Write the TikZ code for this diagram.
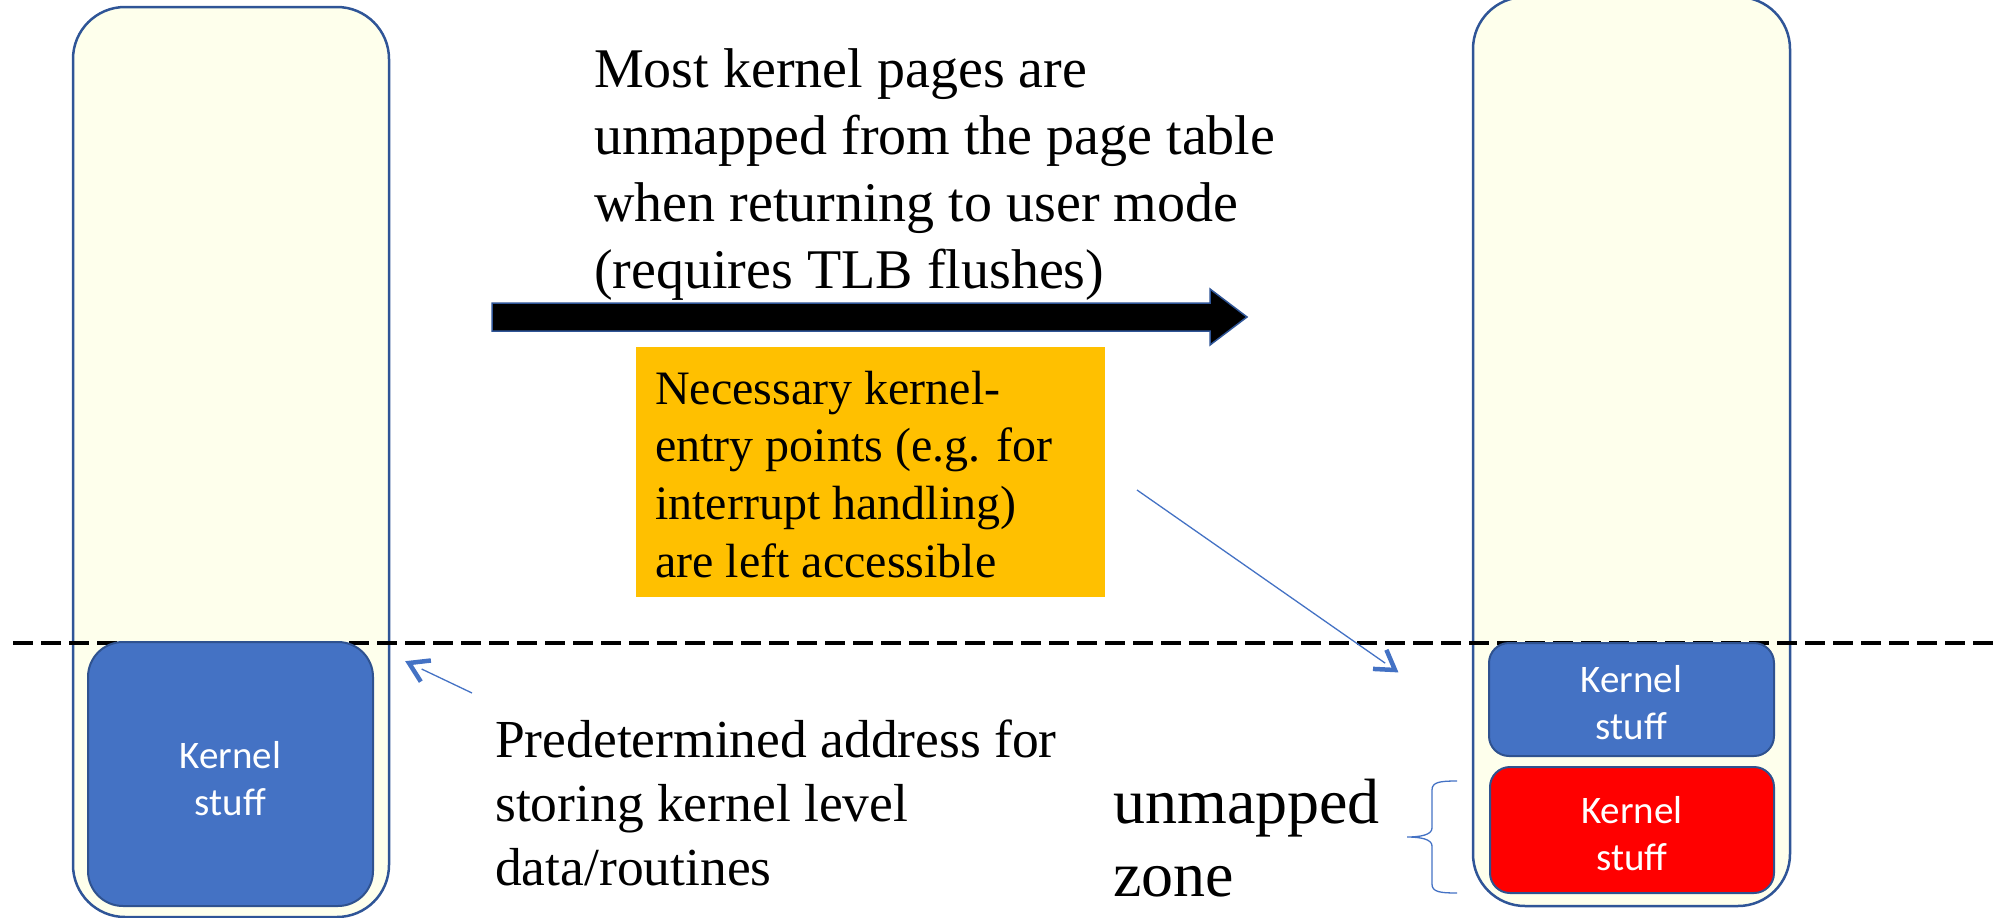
\documentclass[tikz,border=0pt]{standalone}
\usepackage{fontspec}
\setmainfont{Liberation Serif}
\newfontfamily\calib{Carlito}
\usetikzlibrary{arrows.meta,calc}
\definecolor{boxline}{HTML}{2F5597}
\definecolor{paleyel}{HTML}{FEFFEC}
\definecolor{kblue}{HTML}{4472C4}
\definecolor{kline}{HTML}{2F528F}
\definecolor{kred}{HTML}{FF0000}
\definecolor{orng}{HTML}{FFC000}
\definecolor{thinblue}{HTML}{4472C4}
\begin{document}
\begin{tikzpicture}[x=1pt,y=-1pt,
  tallbox/.style={rectangle, draw=boxline, fill=paleyel, line width=2.5pt, rounded corners=52pt, inner sep=0pt},
  kbox/.style={rectangle, draw=kline, line width=2pt, inner sep=0pt},
  ktext/.style={inner sep=0pt, text=white, align=center, font=\calib\fontsize{39}{47}\selectfont},
  dashline/.style={line width=4pt, dash pattern=on 20pt off 8pt},
  bigarrow/.style={fill=black, draw=boxline, line width=1.5pt, line join=miter},
  thinline/.style={draw=thinblue, line width=1.3pt},
  headstyle/.style={draw=thinblue, line width=4.5pt, line join=miter, line cap=butt},
  bracestyle/.style={draw=thinblue, line width=1.3pt},
  txt/.style={inner sep=0pt, anchor=base west, align=left}
]
\useasboundingbox (0,0) rectangle (2006,918);
% tall boxes
\node[tallbox, minimum width=316pt, minimum height=910pt] (lt) at (231,462) {};
\node[tallbox, minimum width=317pt, minimum height=909pt] (rt) at (1631.5,451.5) {};
% dashed boundary
\coordinate (dl) at (13,643);
\coordinate (dr) at (1993,643);
\draw[dashline] (dl) -- (dr);
% kernel boxes
\node[kbox, fill=kblue, rounded corners=35pt, minimum width=285pt, minimum height=264pt] (lk) at (230.5,774) {};
\node[ktext] (lkt) at ([yshift=-5pt]lk.center) {Kernel\\stuff};
\node[kbox, fill=kblue, rounded corners=20pt, minimum width=285pt, minimum height=113pt] (rk) at (1631.5,699.5) {};
\node[ktext] (rkt) at ([yshift=-3pt]rk.center) {Kernel\\stuff};
\node[kbox, fill=kred, rounded corners=20pt, minimum width=284pt, minimum height=126pt] (rr) at (1632,830) {};
\node[ktext] (rrt) at ([yshift=-4pt]rr.center) {Kernel\\stuff};
% big arrow
\coordinate (as) at (492,317);
\coordinate (ae) at (1247,317);
\draw[bigarrow] ($(as)+(0,-14)$) -- (1210,303) -- (1210,289) -- (ae) -- (1210,345) -- (1210,331) -- ($(as)+(0,14)$) -- cycle;
% title text (base anchor = last line)
\node[txt, font=\fontsize{56}{67}\selectfont] (title) at (594,288) {Most kernel pages are\\unmapped from the page table\\when returning to user mode\\(requires TLB flushes)};
% orange box
\node[rectangle, fill=orng, inner sep=0pt, minimum width=469pt, minimum height=250pt] (ob) at (870.5,472) {};
\node[txt, font=\fontsize{48}{57.6}\selectfont] (otext) at (655,577) {Necessary kernel-\\entry points (e.g. for\\interrupt handling)\\are left accessible};
% lower texts
\node[txt, font=\fontsize{53.5}{64}\selectfont] (pred) at (495,885) {Predetermined address for\\storing kernel level\\data/routines};
\node[txt, font=\fontsize{64}{73}\selectfont] (unz) at (1113,896) {unmapped\\zone};
% thin arrows with open V heads
\coordinate (a1s) at (1137,490);
\coordinate (a1e) at (1395,670);
\draw[thinline] (a1s) -- ($(a1e)!12pt!(a1s)$);
\draw[headstyle] ($(a1e)+(-8.6,-20.2)$) -- (a1e) -- ($(a1e)+(-22,-1.1)$);
\coordinate (a2s) at (472,693);
\coordinate (a2e) at (409,663);
\draw[thinline] (a2s) -- ($(a2e)!14pt!(a2s)$);
\draw[headstyle] ($(a2e)+(11.8,18.6)$) -- (a2e) -- ($(a2e)+(21.9,-2.5)$);
% brace
\coordinate (bt) at (1457,781);
\coordinate (bm) at (1407,837);
\coordinate (bb) at (1457,893);
\draw[bracestyle] (bt) .. controls (1440,781) and (1432,782) .. (1432,790) -- (1432,828)
  .. controls (1432,835) and (1420,837) .. (bm)
  .. controls (1420,837) and (1432,839) .. (1432,846) -- (1432,884)
  .. controls (1432,892) and (1440,893) .. (bb);
\end{tikzpicture}
\end{document}
